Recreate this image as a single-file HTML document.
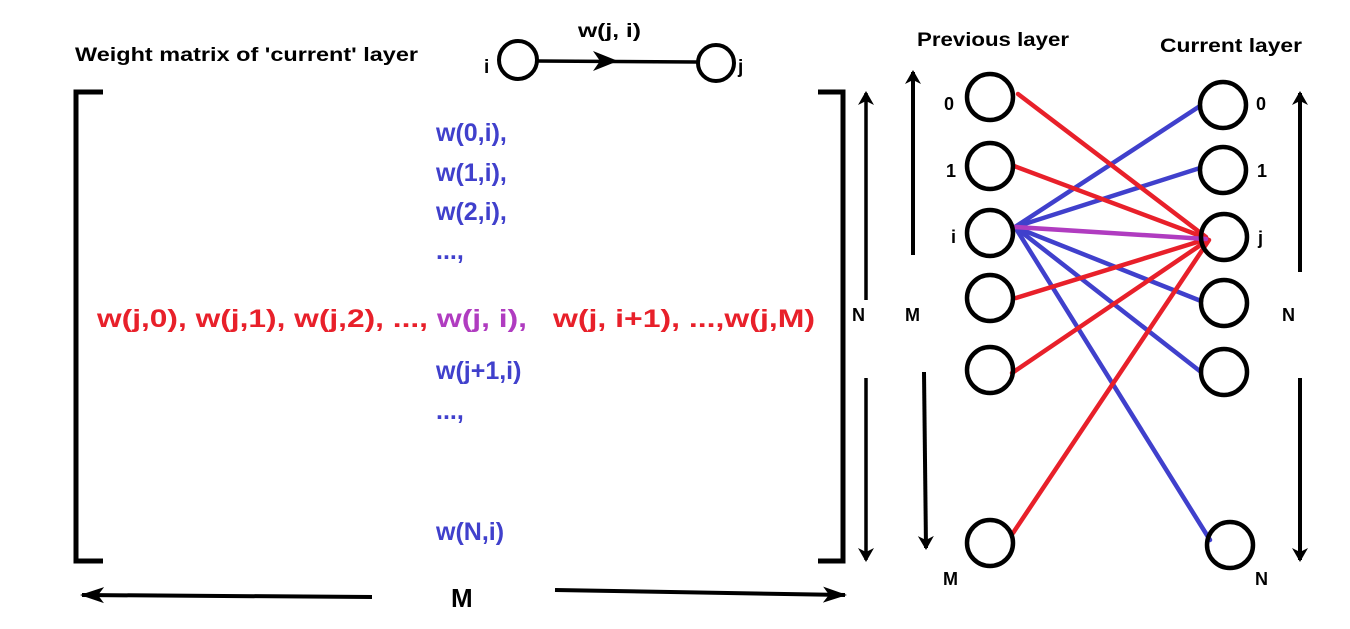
<!DOCTYPE html>
<html><head><meta charset="utf-8"><style>html,body{margin:0;padding:0;background:#fff}svg{display:block}text{font-family:"Liberation Sans","DejaVu Sans",sans-serif;font-weight:bold}</style></head><body>
<svg width="1350" height="629" viewBox="0 0 1350 629" xmlns="http://www.w3.org/2000/svg">
<defs><marker id="ah" markerWidth="14" markerHeight="20" refX="12" refY="10" orient="auto" markerUnits="userSpaceOnUse"><path d="M0,2 L14,10 L0,18 L4,10 Z" fill="#000"/></marker>
<marker id="ah2" markerWidth="24" markerHeight="18" refX="22" refY="9" orient="auto" markerUnits="userSpaceOnUse"><path d="M0,1 L24,9 L0,17 L6,9 Z" fill="#000"/></marker></defs>
<text x="75" y="61" font-size="19" textLength="343" lengthAdjust="spacingAndGlyphs">Weight matrix of 'current' layer</text>
<path d="M103,92 H76 V561 H103" fill="none" stroke="#000" stroke-width="5"/>
<path d="M818,92 H843 V561 H818" fill="none" stroke="#000" stroke-width="5"/>
<circle cx="518" cy="60" r="19" fill="none" stroke="#000" stroke-width="4"/>
<circle cx="716" cy="63" r="18" fill="none" stroke="#000" stroke-width="4"/>
<line x1="537" y1="61" x2="697" y2="62" stroke="#000" stroke-width="3.5"/>
<path d="M593,51 L618,61 L593,71 L600,61 Z" fill="#000"/>
<text x="578" y="37" font-size="19" textLength="63" lengthAdjust="spacingAndGlyphs">w(j, i)</text>
<text x="484" y="73" font-size="19">i</text>
<text x="738" y="73" font-size="19">j</text>
<g fill="#4040cc" font-size="25">
<text x="436" y="141">w(0,i),</text>
<text x="436" y="181">w(1,i),</text>
<text x="436" y="220">w(2,i),</text>
<text x="436" y="259">...,</text>
<text x="436" y="379">w(j+1,i)</text>
<text x="436" y="419">...,</text>
<text x="436" y="540">w(N,i)</text>
</g>
<text x="97" y="327" font-size="25" fill="#e8202a" textLength="331" lengthAdjust="spacingAndGlyphs">w(j,0), w(j,1), w(j,2), ...,</text>
<text x="437" y="327" font-size="25" fill="#b03cc0" textLength="90" lengthAdjust="spacingAndGlyphs">w(j, i),</text>
<text x="553" y="327" font-size="25" fill="#e8202a" textLength="262" lengthAdjust="spacingAndGlyphs">w(j, i+1), ...,w(j,M)</text>
<line x1="372" y1="597" x2="82" y2="595" stroke="#000" stroke-width="4" marker-end="url(#ah2)"/>
<line x1="555" y1="590" x2="845" y2="595" stroke="#000" stroke-width="4" marker-end="url(#ah2)"/>
<text x="451" y="607" font-size="26" font-weight="normal">M</text>
<line x1="866" y1="300" x2="866" y2="93" stroke="#000" stroke-width="3.5" marker-end="url(#ah)"/>
<line x1="866" y1="378" x2="866" y2="560" stroke="#000" stroke-width="3.5" marker-end="url(#ah)"/>
<text x="852" y="321" font-size="18">N</text>
<text x="917" y="46" font-size="19" textLength="152" lengthAdjust="spacingAndGlyphs">Previous layer</text>
<text x="1160" y="52" font-size="19" textLength="142" lengthAdjust="spacingAndGlyphs">Current layer</text>
<g stroke-width="4.5" stroke-linecap="round">
<line x1="1015" y1="227" x2="1200" y2="106" stroke="#4040cc"/>
<line x1="1015" y1="227" x2="1200" y2="168" stroke="#4040cc"/>
<line x1="1015" y1="227" x2="1201" y2="301" stroke="#4040cc"/>
<line x1="1015" y1="227" x2="1201" y2="372" stroke="#4040cc"/>
<line x1="1015" y1="227" x2="1210" y2="540" stroke="#4040cc"/>
<line x1="1018" y1="94" x2="1206" y2="237" stroke="#e8202a"/>
<line x1="1014" y1="166" x2="1206" y2="238" stroke="#e8202a"/>
<line x1="1016" y1="298" x2="1207" y2="239" stroke="#e8202a"/>
<line x1="1012" y1="373" x2="1208" y2="240" stroke="#e8202a"/>
<line x1="1013" y1="533" x2="1209" y2="240" stroke="#e8202a"/>
<line x1="1015" y1="227" x2="1206" y2="239" stroke="#b03cc0"/>
</g>
<g fill="none" stroke="#000" stroke-width="4.5">
<circle cx="990" cy="97" r="23"/><circle cx="990" cy="166" r="23"/><circle cx="990" cy="233" r="23"/>
<circle cx="990" cy="298" r="23"/><circle cx="990" cy="370" r="23"/><circle cx="990" cy="543" r="23"/>
<circle cx="1223" cy="105" r="23"/><circle cx="1223" cy="170" r="23"/><circle cx="1224" cy="237" r="23"/>
<circle cx="1224" cy="303" r="23"/><circle cx="1224" cy="372" r="23"/><circle cx="1230" cy="545" r="23"/>
</g>
<g font-size="18">
<text x="944" y="110">0</text><text x="946" y="177">1</text><text x="951" y="243">i</text>
<text x="1256" y="110">0</text><text x="1257" y="177">1</text><text x="1258" y="244">j</text>
<text x="943" y="585">M</text><text x="1255" y="585">N</text>
<text x="905" y="321">M</text><text x="1282" y="321">N</text>
</g>
<line x1="913" y1="255" x2="913" y2="72" stroke="#000" stroke-width="4" marker-end="url(#ah)"/>
<line x1="924" y1="372" x2="926" y2="548" stroke="#000" stroke-width="4" marker-end="url(#ah)"/>
<line x1="1300" y1="272" x2="1300" y2="93" stroke="#000" stroke-width="4" marker-end="url(#ah)"/>
<line x1="1300" y1="378" x2="1300" y2="560" stroke="#000" stroke-width="4" marker-end="url(#ah)"/>
</svg>
</body></html>
